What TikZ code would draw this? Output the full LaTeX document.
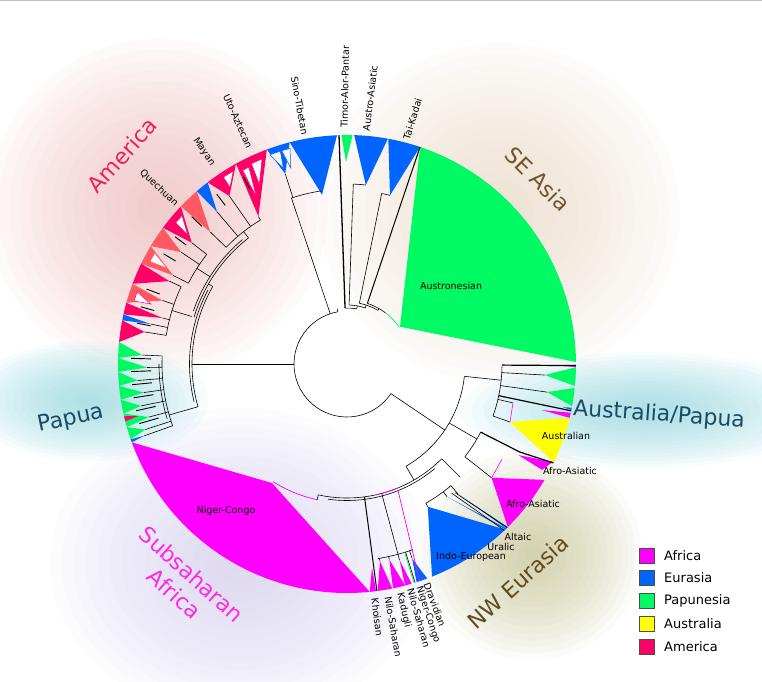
\documentclass[tikz,border=0pt]{standalone}
\usepackage{fontspec}
\setmainfont{DejaVu Sans}
\definecolor{cAf}{RGB}{255,0,255}
\definecolor{cEu}{RGB}{0,100,255}
\definecolor{cPa}{RGB}{0,250,100}
\definecolor{cAu}{RGB}{255,255,0}
\definecolor{cAm}{RGB}{255,0,102}
\definecolor{cAmS}{RGB}{255,90,100}
\definecolor{gAm}{RGB}{241,181,181}
\definecolor{gSE}{RGB}{235,216,192}
\definecolor{gPa}{RGB}{133,213,221}
\definecolor{gSS}{RGB}{210,203,238}
\definecolor{gNW}{RGB}{194,190,136}
\definecolor{tAm}{RGB}{240,30,90}
\definecolor{tSE}{RGB}{110,85,45}
\definecolor{tPa}{RGB}{25,75,100}
\definecolor{tAf}{RGB}{255,40,230}
\definecolor{tNW}{RGB}{95,75,30}
\tikzset{
  br/.style={line width=0.6pt, black},
  lab/.style={font=\fontsize{9.5}{11}\selectfont, inner sep=0pt, text=black},
  big/.style={font=\fontsize{22}{26}\selectfont, inner sep=0pt},
  legsq/.style={draw=black!70, line width=0.6pt, minimum size=15pt, inner sep=0pt},
  legtx/.style={font=\fontsize{13}{15}\selectfont, anchor=west, inner sep=0pt}
}
\newcommand{\clade}[5]{\fill[fill=#1] (#4:#5) -- (#2:229) arc[start angle=#2, end angle=#3, radius=229] -- cycle;}
\newcommand{\brad}[3]{\draw[br] (#1:#2) -- (#1:#3);}
\newcommand{\barc}[3]{\draw[br] (#2:#1) arc[start angle=#2, end angle=#3, radius=#1];}
% soft glow: colour, centre x, centre y, semi-axis a, semi-axis b
\newcommand{\glow}[5]{\foreach \gk in {1,...,16} {\fill[fill=#1, opacity=0.06] (#2,#3) ellipse ({#4*\gk/16} and {#5*\gk/16});}}
\begin{document}
\begin{tikzpicture}[x=1pt,y=1pt]
\useasboundingbox (0,0) rectangle (762,681);
\clip (0,0) rectangle (762,681);
\fill[white] (0,0) rectangle (762,681);
% background glows
\glow{gSE}{500}{468}{180}{170}
\glow{gAm}{158}{474}{170}{168}
\glow{gSS}{240}{118}{190}{155}
\glow{gNW}{532}{126}{110}{105}
\glow{gPa}{88}{280}{120}{60}
\glow{gPa}{645}{271}{185}{58}
\draw[black!25, line width=1pt] (0,680.5) -- (762,680.5);

\begin{scope}[shift={(347,317)}]
% ---------- Asia clades
\clade{cPa}{0.5}{71.4}{35.1}{64.8}
\clade{cEu}{71.4}{79.6}{75.7}{174}
\clade{cEu}{79.7}{88.2}{84}{180}
\clade{cPa}{88.6}{91.4}{90.3}{202}
\clade{cEu}{92.5}{104.5}{98.4}{171}
\clade{cEu}{104.5}{110.5}{108}{200}
\filldraw[fill=white, draw=cEu, line width=0.5pt] (108:206) -- (110.2:223) -- (107.4:223) -- cycle;
\filldraw[fill=white, draw=cEu, line width=0.5pt] (106:204) -- (107:223) -- (104.8:223) -- cycle;
% ---------- America clades
\foreach \pa/\pb/\pc/\pr/\pcol in {110.5/119/121/172/cAm, 119/127.5/125/205/cAm, 127.5/131/130.5/200/cEu, 131/136.5/136/190/cAmS, 136.5/143.5/142/197/cAm, 143.5/149/146/200/cAmS, 149/154/153/195/cAmS, 154/159.5/155/196/cAm, 159.5/164.5/161/195/cAmS, 164.5/167.5/166/190/cAm, 167.5/169/168.5/200/cEu, 169/174.5/171/205/cAm}
  {\clade{\pcol}{\pa}{\pb}{\pc}{\pr}}
\filldraw[fill=white, draw=cAm, line width=0.5pt] (116:200) -- (115.5:222) -- (112.5:222) -- cycle;
\filldraw[fill=white, draw=cAm, line width=0.5pt] (118.5:190) -- (118.3:220) -- (116.5:220) -- cycle;
\filldraw[fill=white, draw=cAm, line width=0.5pt] (123.5:212) -- (123.5:224) -- (120.5:224) -- cycle;
\filldraw[fill=white, draw=cAm, line width=0.5pt] (141:205) -- (140.5:222) -- (138:222) -- cycle;
\filldraw[fill=white, draw=cAmS, line width=0.5pt] (152:204) -- (152.5:222) -- (150:222) -- cycle;
\filldraw[fill=white, draw=cAm, line width=0.5pt] (163:205) -- (163.5:222) -- (161:222) -- cycle;
% ---------- Papua clades
\foreach \pa/\pb/\pc/\pr in {174.5/178.5/177.5/205, 178.5/182/181/200, 182/185.5/184.5/210, 185.5/189/188/205, 189/192.5/191.5/210, 192.5/196/195/205, 196/199.2/198/212}
  {\clade{cPa}{\pa}{\pb}{\pc}{\pr}}
\clade{cAm}{193.2}{194.5}{194}{215}
\clade{cEu}{199.2}{200}{199.5}{215}
% ---------- Africa / Eurasia clades
\clade{cAf}{200}{275.7}{237.8}{140.7}
\clade{cAf}{-84.3}{-82.7}{-83}{205}
\clade{cAf}{-82.3}{-78.6}{-80.5}{200}
\clade{cAf}{-78.4}{-75.3}{-77.8}{200}
\clade{cAf}{-75.3}{-73.6}{-75}{203}
\clade{cEu}{-72.3}{-69.5}{-71.5}{205}
\clade{cEu}{-68.2}{-46.3}{-60.5}{164}
\fill[cEu] (-53:166) -- (-46.3:229) -- (-45.9:229) -- cycle;
\fill[cEu] (-49.5:171) -- (-45.9:229) -- (-45.4:229) -- cycle;
\clade{cAf}{-45.4}{-30.4}{-38.2}{184}
\fill[cAf] (-28:194) -- (-25.4:228) -- (-28.5:222) -- cycle;
\clade{cAu}{-25.4}{-13.6}{-19.6}{173}
\fill[cAf] (-13.3:200) -- (-12.3:229) -- (-13.6:229) -- cycle;
\clade{cEu}{-11}{-11.6}{-11.3}{220}
\clade{cPa}{-0.8}{-5.5}{-3.2}{198}
\clade{cPa}{-6}{-10.6}{-8}{202}
\clade{cAf}{-0.2}{-0.8}{-0.5}{215}

% ---------- tree: root
\barc{53}{100}{326}
% Asia
\brad{108.5}{53}{175}
\barc{175}{98.4}{108.5}
\brad{108}{175}{200}
\brad{100}{53}{56}
\barc{56}{92}{80}
\draw[br, line width=1.3pt] (92:56) -- (92:229);
\brad{80}{56}{59}
\barc{59}{88}{72}
\brad{88}{59}{180}
\barc{180}{88}{84}
\brad{72}{59}{62}
\barc{62}{78.5}{60}
\brad{78.5}{62}{174}
\barc{174}{78.5}{75.7}
\brad{60}{62}{64}
\barc{64}{71.4}{53}
\draw[cPa, line width=0.8pt] (53:64) arc[start angle=53, end angle=35.1, radius=64];
\draw[br, line width=1pt] (71.4:64) -- (71.4:229);
% left subtree
\brad{180}{53}{155}
\barc{155}{150}{196}
\barc{157.5}{152}{194}
\brad{150}{155}{160}
\barc{160}{128}{163}
\barc{162.5}{130}{161}
\brad{128}{160}{168}
\barc{168}{121}{136}
\brad{147.5}{162.5}{178}
\barc{178}{142}{153}
\brad{163}{162.5}{183}
\barc{183}{155}{171}
\foreach \pc/\pr in {121/172, 125/205, 130.5/200, 136/190} {\brad{\pc}{168}{\pr}}
\foreach \pc/\pr in {142/197, 146/200, 153/195} {\brad{\pc}{178}{\pr}}
\foreach \pc/\pr in {155/196, 161/195, 166/190, 168.5/200, 171/205} {\brad{\pc}{183}{\pr}}
\foreach \pc in {119, 127.5, 136.5, 143.5, 149, 159.5, 164.5, 169} {\draw[br, line width=0.9pt] (\pc:200) -- (\pc:214);}
% Papua
\brad{196}{155}{185}
\barc{185}{177.5}{199.5}
\barc{188}{180}{197}
\foreach \pc/\pr in {177.5/205, 181/200, 184.5/210, 188/205, 191.5/210, 195/205, 198/212, 199.5/215} {\brad{\pc}{185}{\pr}}
\foreach \pc in {178.5, 182, 185.5, 189, 192.5, 196} {\draw[br, line width=0.9pt] (\pc:196) -- (\pc:216);}
% right / bottom subtree
\brad{-34}{53}{118}
\barc{118}{-60}{-6}
\brad{-6}{118}{155}
\barc{155}{-1}{-19.6}
\draw[br, line width=1.2pt] (-0.4:155) -- (-0.4:229);
\foreach \pc/\pr in {-3.2/198, -8/202, -13.2/170.5, -19.6/173} {\brad{\pc}{155}{\pr}}
\draw[br, line width=1.2pt] (-11.8:155) -- (-11.8:229);
\draw[cAf, line width=0.6pt] (-13.2:170.5) -- (-19.6:173);
\brad{-30}{118}{150}
\barc{150}{-38.2}{-27}
\brad{-38.2}{150}{184}
\draw[br, line width=1.2pt] (-27:150) -- (-27:194) -- (-25.6:229);
\draw[cAf, line width=0.6pt] (-38.2:184) -- (-31.5:182);
\brad{-60}{118}{134}
\barc{134}{-102.4}{-45}
\barc{136.5}{-98}{-50}
\draw[cAf, line width=0.7pt] (-102.4:139) arc[start angle=-102.4, end angle=-122.2, radius=139];
\brad{-102.4}{134}{139}
\brad{-45}{134}{160}
\barc{160}{-60.5}{-49.5}
\brad{-60.5}{160}{164}
\brad{-53}{160}{166}
\brad{-49.5}{160}{171}
\draw[br] (-51:166) -- (-46.6:229);
\draw[br] (-50:168) -- (-45.6:229);
\draw[cAf, line width=0.7pt] (-68:136) -- (-71.5:229);
\draw[cAf, line width=0.7pt] (-77:134) arc[start angle=-77, end angle=-68, radius=134];
\brad{-75}{134}{197}
\barc{197}{-81}{-70.5}
\foreach \pc/\pr in {-80.5/200, -77.8/200, -75/203, -71.5/205} {\brad{\pc}{197}{\pr}}
\draw[cPa, line width=0.7pt] (-73:197) -- (-73:229);
\draw[br] (-72.7:197) -- (-72.7:229);
\draw[br, line width=1pt] (-82.5:134) -- (-82.5:229);

% ---------- radial labels
\node[lab, rotate=294.2, anchor=east] (lUA) at (114.2:237) {Uto-Aztecan};
\node[lab, rotate=304, anchor=east] (lMa) at (124:240) {Mayan};
\node[lab, rotate=316.9, anchor=east] (lQu) at (136.9:233) {Quechuan};
\node[lab, rotate=280.4, anchor=east] (lST) at (100.4:233) {Sino-Tibetan};
\node[lab, rotate=89, anchor=west] (lTi) at (90.7:236) {Timor-Alor-Pantar};
\node[lab, rotate=83, anchor=west] (lAA) at (85.3:234) {Austro-Asiatic};
\node[lab, rotate=73, anchor=west] (lTK) at (75.2:232) {Tai-Kadai};
\node[lab, rotate=-83, anchor=west] (lKh) at (-83.2:236) {Khoisan};
\node[lab, rotate=-80, anchor=west] (lNS) at (-80:236) {Nilo-Saharan};
\node[lab, rotate=-77, anchor=west] (lKa) at (-77:235) {Kadugli};
\node[lab, rotate=-74.2, anchor=west] (lNS2) at (-74.2:233) {Nilo-Saharan};
\node[lab, rotate=-72, anchor=west] (lNC2) at (-72.1:234) {Niger-Congo};
\node[lab, rotate=-69.5, anchor=west] (lDr) at (-70:233) {Dravidian};
\end{scope}

% ---------- inner labels
\node[lab] (lAn) at (451,395) {Austronesian};
\node[lab] (lAu) at (566,245) {Australian};
\node[lab] (lAf1) at (570,210) {Afro-Asiatic};
\node[lab] (lAf2) at (533,177) {Afro-Asiatic};
\node[lab] (lAl) at (518,144) {Altaic};
\node[lab] (lUr) at (501,134) {Uralic};
\node[lab] (lIE) at (471,124) {Indo-European};
\node[lab] (lNC) at (226,170) {Niger-Congo};

% ---------- region labels
\node[big, text=tAm, rotate=48] (rAm) at (122,526) {America};
\node[big, text=tSE, rotate=-45] (rSE) at (538,502) {SE Asia};
\node[big, text=tPa, rotate=12] (rPa) at (71,262) {Papua};
\node[big, text=tPa, rotate=-4] (rAP) at (659,266) {Australia/Papua};
\node[big, text=tAf, rotate=-42, align=center] (rSS) at (183,97) {Subsaharan\\Africa};
\node[big, text=tNW, rotate=42] (rNW) at (518,99) {NW Eurasia};

% ---------- legend
\node[legsq, fill=cAf] (sq1) at (646.5,125.5) {};
\node[legsq, fill=cEu] (sq2) at (646.5,103) {};
\node[legsq, fill=cPa] (sq3) at (646.5,80) {};
\node[legsq, fill=cAu] (sq4) at (646.5,57.5) {};
\node[legsq, fill=cAm] (sq5) at (646.5,34.5) {};
\node[legtx] (tx1) at (664,125.5) {Africa};
\node[legtx] (tx2) at (664,103) {Eurasia};
\node[legtx] (tx3) at (664,80) {Papunesia};
\node[legtx] (tx4) at (664,57.5) {Australia};
\node[legtx] (tx5) at (664,34.5) {America};
\end{tikzpicture}
\end{document}
